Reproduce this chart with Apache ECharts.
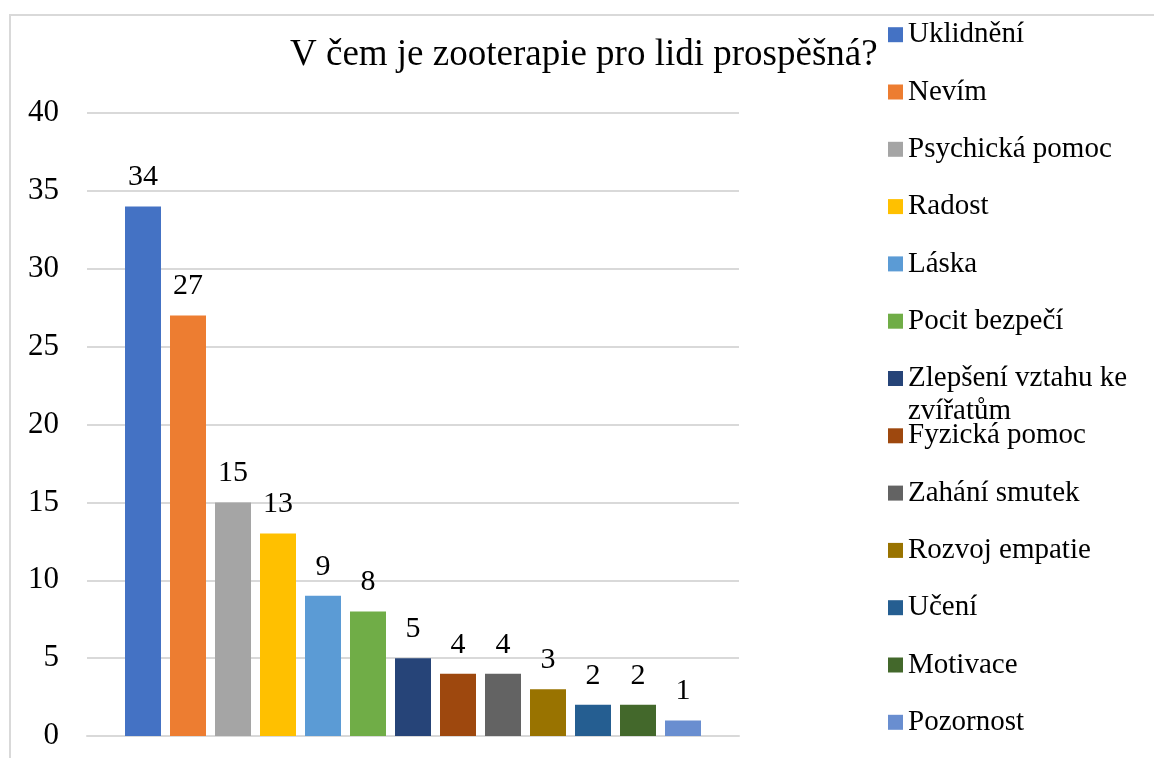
<!DOCTYPE html>
<html>
<head>
<meta charset="utf-8">
<script src="https://cdn.jsdelivr.net/npm/echarts@6/dist/echarts.min.js"></script>
<style>
  html, body { margin: 0; padding: 0; background: #fff; }
  #chart { width: 1154px; height: 758px; }
</style>
</head>
<body>
<div id="chart"></div>
<script>
// data
const categories = [''];
const names = [
  'Uklidnění', 'Nevím', 'Psychická pomoc', 'Radost', 'Láska', 'Pocit bezpečí',
  'Zlepšení vztahu ke zvířatům', 'Fyzická pomoc', 'Zahání smutek', 'Rozvoj empatie',
  'Učení', 'Motivace', 'Pozornost'
];
const values = [34, 27, 15, 13, 9, 8, 5, 4, 4, 3, 2, 2, 1];
const colors = [
  '#4472C4', '#ED7D31', '#A5A5A5', '#FFC000', '#5B9BD5', '#70AD47',
  '#264478', '#9E480E', '#636363', '#997300', '#255E91', '#43682B', '#698ED0'
];

const font = "'Liberation Serif', 'Times New Roman', serif";
const chart = echarts.init(document.getElementById('chart'));

// legend: one per item so the wrapped entry keeps the row spacing
const legends = names.map((name, i) => {
  const wrapped = name.indexOf(' ke ') > 0;
  const center = 34.7 + 57.3 * i;
  return {
    data: [name],
    orient: 'vertical',
    left: 883,
    top: wrapped ? center - 54.5 : center - 19.5,
    icon: 'rect',
    itemWidth: 15,
    itemHeight: 15,
    selectedMode: false,
    formatter: (n) => wrapped ? '\n' + n.replace(' ke ', ' ke\n') : n,
    textStyle: {
      fontFamily: font,
      fontSize: 29,
      color: '#000',
      lineHeight: wrapped ? 33 : undefined
    }
  };
});

const option = {
  animation: false,
  color: colors,
  title: {
    text: 'V čem je zooterapie pro lidi prospěšná?',
    left: 285,
    top: 32,
    textStyle: { fontFamily: font, fontSize: 37, fontWeight: 'normal', color: '#000' }
  },
  legend: legends,
  grid: { left: 87, right: 415, top: 113, bottom: 22 },
  xAxis: {
    type: 'category',
    data: categories,
    axisLine: { show: true, lineStyle: { color: '#d9d9d9', width: 2 } },
    axisTick: { show: false },
    axisLabel: { show: false }
  },
  yAxis: {
    type: 'value',
    min: 0,
    max: 40,
    interval: 5,
    axisLine: { show: false },
    axisTick: { show: false },
    axisLabel: { fontFamily: font, fontSize: 31, color: '#000', margin: 28 },
    splitLine: { lineStyle: { color: '#d9d9d9', width: 2 } }
  },
  graphic: [{
    type: 'rect',
    shape: { x: 10, y: 15, width: 1300, height: 900 },
    style: { fill: 'none', stroke: '#d9d9d9', lineWidth: 2 },
    silent: true
  }],
  series: names.map((name, i) => ({
    name: name,
    type: 'bar',
    data: [values[i]],
    barWidth: 36,
    barGap: '25%',
    label: {
      show: true,
      position: 'top',
      distance: 14,
      fontFamily: font,
      fontSize: 30,
      color: '#000'
    }
  }))
};

chart.setOption(option);
</script>
</body>
</html>
